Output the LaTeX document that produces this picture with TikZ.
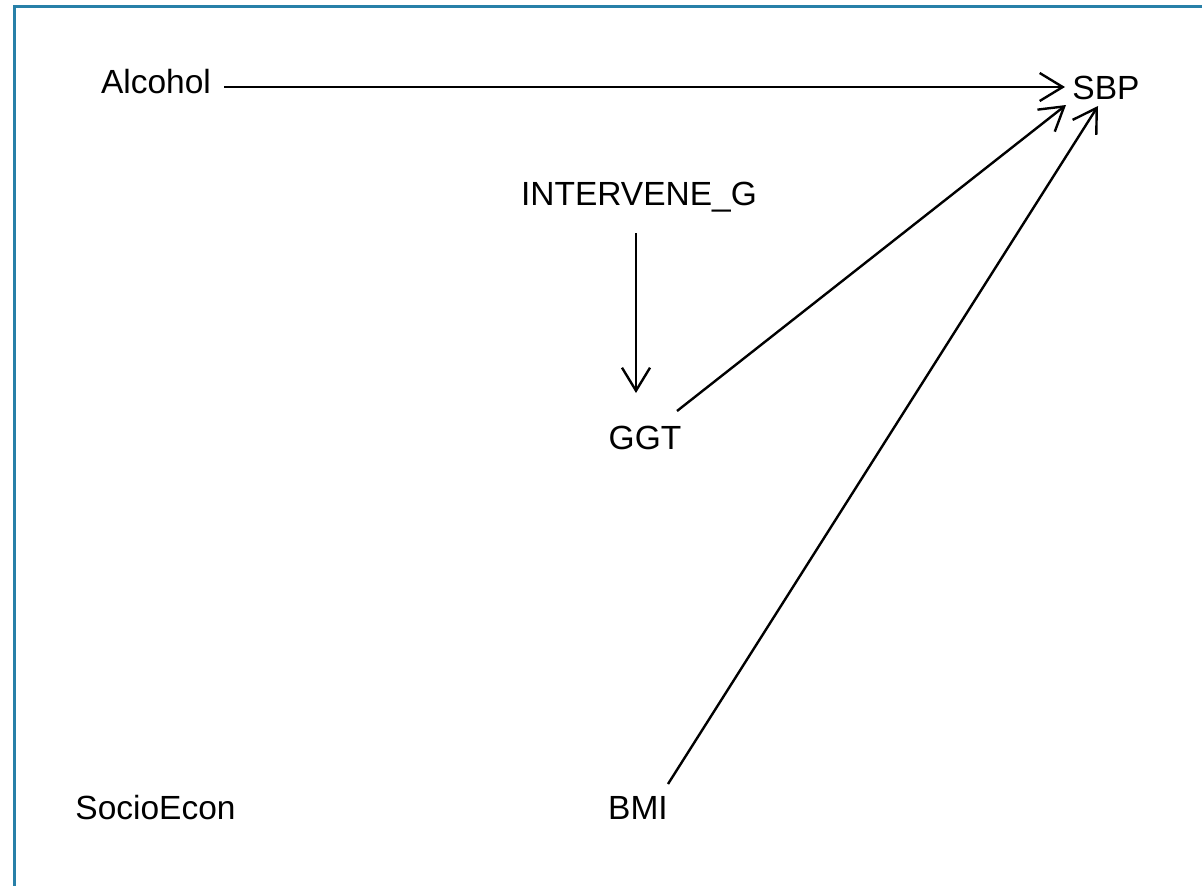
\documentclass[tikz,border=0pt]{standalone}
\usepackage{fontspec}
\setmainfont{Liberation Sans}
\usetikzlibrary{arrows.meta,calc}
\definecolor{frameblue}{RGB}{40,128,168}
\begin{document}
\begin{tikzpicture}[x=1pt,y=-1pt,
  lbl/.style={anchor=base,inner sep=0pt,font=\fontsize{33.5}{40}\selectfont},
  conn/.style={line width=2.4pt,-{Straight Barb[length=23pt,width=28pt,line width=2.4pt]}}]
\useasboundingbox (0,0) rectangle (1202,886);
\draw[frameblue,line width=3pt] (14,886) -- (14,6) -- (1202,6);
\node[lbl] (Alcohol) at (156,93) {Alcohol};
\node[lbl] (SBP) at (1106,99) {SBP};
\node[lbl] (INT) at (639,205) {INTERVENE\_G};
\node[lbl] (GGT) at (645,449) {GGT};
\node[lbl] (Socio) at (155.5,819) {SocioEcon};
\node[lbl] (BMI) at (638,819) {BMI};
\draw[conn] ($(Alcohol.base)+(68,-6)$) -- ($(SBP.base)+(-41,-12)$);
\draw[conn] ($(INT.base)+(-3,28)$) -- ($(GGT.base)+(-9,-56)$);
\draw[conn] ($(GGT.base)+(32,-38)$) -- ($(SBP.base)+(-40,6)$);
\draw[conn] ($(BMI.base)+(30,-35)$) -- ($(SBP.base)+(-8,7)$);
\end{tikzpicture}
\end{document}
